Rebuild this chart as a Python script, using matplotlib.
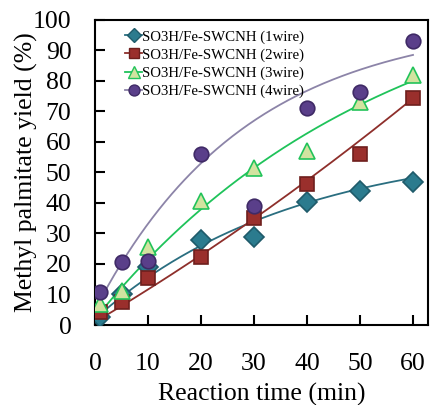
import numpy as np
import matplotlib
matplotlib.use("Agg")
import matplotlib.pyplot as plt

plt.rcParams['font.family'] = ['Liberation Serif', 'DejaVu Serif']

time = [1, 5, 10, 20, 30, 40, 50, 60]
wire1 = [2.5, 10, 19, 27.7, 28.7, 40.4, 44, 47]
wire2 = [4.4, 7.7, 15.5, 22.2, 35, 46.2, 56.1, 74.3]
wire3 = [6.8, 11, 25.4, 40.7, 51.5, 56.9, 73.2, 82]
wire4 = [10.7, 20.5, 21, 56.1, 39, 71, 76.5, 93]
labels = ["SO3H/Fe-SWCNH (1wire)", "SO3H/Fe-SWCNH (2wire)",
          "SO3H/Fe-SWCNH (3wire)", "SO3H/Fe-SWCNH (4wire)"]
xticks = [0, 10, 20, 30, 40, 50, 60]
yticks = [0, 10, 20, 30, 40, 50, 60, 70, 80, 90, 100]

# trend-line parameters:
# y = c + a*t + b*t^2 + A*(1 - exp(-k*t))
fit_c = [2.0, 1.0, 2.0, 5.0]
fit_a = [0.0, 1.034, 0.0, 0.0]
fit_b = [0.0, 0.00312, 0.0, 0.0]
fit_A = [57.6, 0.0, 116.7, 95.0]
fit_k = [0.027, 0.0, 0.0184, 0.0352]

styles = [
    dict(marker='D', ms=10, mfc='#2b7b8e', mec='#1f5b6a', line='#2a6e80'),
    dict(marker='s', ms=9.5, mfc='#9a2f2c', mec='#6e1f1d', line='#8e2f2b'),
    dict(marker='^', ms=11, mfc='#d2e3a0', mec='#22c35a', line='#1fc35a'),
    dict(marker='o', ms=10.5, mfc='#5a3f8a', mec='#3f2a66', line='#8c84a8'),
]

fig = plt.figure(figsize=(4.3, 4.05), dpi=100)
ax = fig.add_axes([0.221, 0.1975, 0.774, 0.7535])

xs = np.linspace(0, 60, 200)
series = [wire1, wire2, wire3, wire4]
for i, st in enumerate(styles):
    ys = (fit_c[i] + fit_a[i] * xs + fit_b[i] * xs ** 2
          + fit_A[i] * (1 - np.exp(-fit_k[i] * xs)))
    ax.plot(xs, ys, color=st['line'], lw=1.3, zorder=2)
for vals, st, lab in zip(series, styles, labels):
    ax.plot(time, vals, ls='none', marker=st['marker'], ms=st['ms'],
            mfc=st['mfc'], mec=st['mec'], mew=1.2, zorder=3)
    ax.plot([], [], color=st['line'], lw=1.3, marker=st['marker'],
            ms=st['ms'] * 0.75, mfc=st['mfc'], mec=st['mec'], label=lab)

ax.set_xlim(0, 62.8)
ax.set_ylim(0, 100)
ax.set_xticks(xticks)
ax.set_yticks(yticks)
ax.tick_params(direction='in', length=7, width=1.5, labelsize=18.5)
ax.tick_params(axis='x', pad=20)
ax.tick_params(axis='y', pad=17)
for s in ax.spines.values():
    s.set_linewidth(1.5)
ax.set_xlabel("Reaction time (min)", fontsize=18.5)
ax.set_ylabel("Methyl palmitate yield (%)", fontsize=18.5)
ax.xaxis.set_label_coords(0.5, -0.19)
ax.yaxis.set_label_coords(-0.17, 0.5)

ax.legend(loc='upper left', frameon=False, fontsize=10.7, handlelength=1.1,
          handletextpad=0.05, labelspacing=0.3, borderaxespad=0.3,
          bbox_to_anchor=(0.06, 1.0))

fig.savefig("out.png", dpi=100)
